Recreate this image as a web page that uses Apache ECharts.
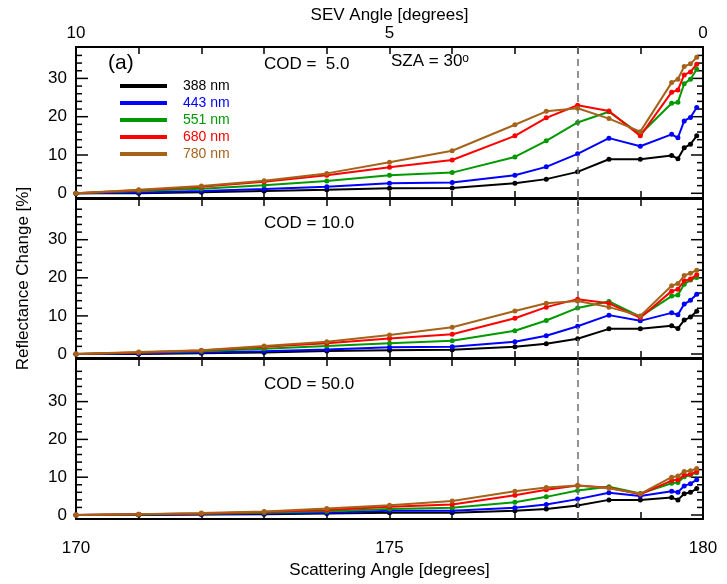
<!DOCTYPE html>
<html>
<head>
<meta charset="utf-8">
<script src="https://cdn.jsdelivr.net/npm/echarts@6/dist/echarts.min.js"></script>
<style>html,body{margin:0;padding:0;background:#fff}#c{width:727px;height:584px}</style>
</head>
<body>
<div id="c"></div>
<script>
// ---------- data ----------
const scatAngle = [170, 171, 172, 173, 174, 175, 176, 177, 177.5, 178, 178.5, 179, 179.5, 179.6, 179.7, 179.8, 179.9];
const wavelengths = ['388 nm', '443 nm', '551 nm', '680 nm', '780 nm'];
const colors = ['#000000', '#0000ff', '#009a00', '#ff0000', '#a5631a'];
const xTicksBottom = [170, 175, 180];
const xTicksTop = [10, 5, 0];
const yMajorTicks = [0, 10, 20, 30];
const yMinorTicks = [2, 4, 6, 8, 12, 14, 16, 18, 22, 24, 26, 28, 32, 34, 36, 38];
const panelTitles = ['COD =  5.0', 'COD = 10.0', 'COD = 50.0'];

// COD = 5.0
const cod5_388 = [0, 0.0, 0.3, 0.6, 0.9, 1.3, 1.4, 2.6, 3.7, 5.6, 8.9, 8.9, 9.9, 9.0, 11.9, 12.8, 15.0];
const cod5_443 = [0, 0.2, 0.6, 1.1, 1.7, 2.6, 2.8, 4.7, 6.9, 10.3, 14.4, 12.3, 15.4, 14.5, 18.9, 19.8, 22.4];
const cod5_551 = [0, 0.6, 1.2, 2.1, 3.2, 4.7, 5.4, 9.5, 13.7, 18.5, 21.3, 15.4, 23.5, 23.8, 28.6, 29.8, 32.4];
const cod5_680 = [0, 0.8, 1.7, 3.0, 4.7, 6.8, 8.7, 15.0, 19.7, 23.0, 21.5, 15.0, 26.4, 27.0, 30.9, 31.7, 33.7];
const cod5_780 = [0, 0.9, 1.9, 3.3, 5.2, 8.1, 11.1, 17.9, 21.4, 22.2, 19.5, 16.1, 28.9, 29.8, 33.1, 33.8, 35.5];
// COD = 10.0
const cod10_388 = [0, 0.0, 0.2, 0.4, 0.8, 1.0, 1.1, 1.9, 2.7, 4.0, 6.6, 6.6, 7.4, 6.7, 8.9, 9.7, 11.2];
const cod10_443 = [0, 0.1, 0.4, 0.7, 1.2, 1.8, 1.9, 3.2, 4.8, 7.3, 10.2, 8.7, 10.8, 10.3, 13.1, 14.1, 15.7];
const cod10_551 = [0, 0.3, 0.7, 1.4, 2.1, 2.8, 3.5, 6.1, 8.8, 12.1, 13.8, 9.8, 15.2, 15.5, 18.3, 19.4, 20.1];
const cod10_680 = [0, 0.4, 0.9, 1.9, 2.8, 4.1, 5.2, 9.4, 12.3, 14.4, 13.3, 9.5, 16.5, 17.0, 19.2, 19.7, 20.8];
const cod10_780 = [0, 0.5, 1.0, 2.1, 3.2, 5.0, 7.0, 11.3, 13.3, 13.9, 12.3, 10.0, 17.9, 18.5, 20.6, 21.2, 22.0];
// COD = 50.0
const cod50_388 = [0, 0.0, 0.1, 0.2, 0.4, 0.6, 0.6, 1.1, 1.6, 2.5, 4.0, 4.0, 4.6, 4.0, 5.6, 6.0, 7.0];
const cod50_443 = [0, 0.1, 0.2, 0.4, 0.6, 1.1, 1.1, 1.9, 2.8, 4.2, 5.9, 5.0, 6.3, 6.0, 7.7, 8.3, 9.3];
const cod50_551 = [0, 0.15, 0.3, 0.6, 1.0, 1.6, 1.9, 3.4, 4.8, 6.5, 7.5, 5.7, 8.4, 8.6, 10.1, 10.6, 11.2];
const cod50_680 = [0, 0.2, 0.4, 0.8, 1.3, 2.2, 2.8, 5.2, 6.7, 7.8, 7.2, 5.5, 9.1, 9.3, 10.6, 10.8, 11.5];
const cod50_780 = [0, 0.2, 0.5, 0.9, 1.7, 2.6, 3.7, 6.3, 7.3, 7.8, 7.1, 5.6, 10.0, 10.3, 11.5, 11.7, 12.3];

const panels = [
  [cod5_388, cod5_443, cod5_551, cod5_680, cod5_780],
  [cod10_388, cod10_443, cod10_551, cod10_680, cod10_780],
  [cod50_388, cod50_443, cod50_551, cod50_680, cod50_780]
];

// ---------- layout ----------
const FONT = 'Liberation Sans, Arial, Helvetica, sans-serif';
const LEFT = 76, WIDTH = 627;
const MAJOR_LEN = 12, MINOR_LEN = 6;
const boxes = [
  {top: 47, bottom: 198, y0: 193.3, s: 3.83},
  {top: 199, bottom: 358, y0: 354, s: 3.81},
  {top: 359, bottom: 519, y0: 515, s: 3.78}
];
const axLine = () => ({show: true, onZero: false, lineStyle: {color: '#000', width: 2}});
const tick = (len) => ({show: true, inside: true, length: len, lineStyle: {color: '#000', width: 1.5}});
const txt = () => ({fontSize: 17, color: '#000', fontFamily: FONT});

const grid = [], xAxis = [], yAxis = [];

boxes.forEach((b, gi) => {
  grid.push({left: LEFT, width: WIDTH, top: b.top, height: b.bottom - b.top});
  xAxis.push({
    type: 'value', gridIndex: gi, position: 'bottom', min: 170, max: 180, interval: 1,
    axisLine: axLine(), splitLine: {show: false},
    axisTick: tick(7),
    axisLabel: Object.assign({show: gi === 2, margin: 21,
      formatter: v => xTicksBottom.includes(v) ? String(v) : ''}, txt()),
    name: gi === 2 ? 'Scattering Angle [degrees]' : '', nameLocation: 'middle', nameGap: 43,
    nameTextStyle: txt()
  });
  if (gi === 0) {
    xAxis.push({
      type: 'value', gridIndex: gi, position: 'top', min: 0, max: 10, interval: 1, inverse: true,
      axisLine: axLine(), splitLine: {show: false},
      axisTick: tick(7),
      axisLabel: Object.assign({show: true, margin: 5,
        formatter: v => xTicksTop.includes(v) ? String(v) : ''}, txt()),
      name: 'SEV Angle [degrees]', nameLocation: 'middle', nameGap: 23, nameTextStyle: txt()
    });
  } else {
    xAxis.push({
      type: 'value', gridIndex: gi, position: 'top', min: 170, max: 180, interval: 1,
      axisLine: axLine(), splitLine: {show: false},
      axisTick: tick(7),
      axisLabel: {show: false}
    });
  }
  const ymax = (b.y0 - b.top) / b.s;
  ['left', 'right'].forEach(pos => {
    yAxis.push({
      type: 'value', gridIndex: gi, position: pos,
      min: -(b.bottom - b.y0) / b.s, max: ymax,
      axisLine: axLine(), splitLine: {show: false}, axisTick: {show: false},
      axisLabel: Object.assign({show: pos === 'left', customValues: yMajorTicks.slice(), margin: 9}, txt()),
      name: (gi === 1 && pos === 'left') ? 'Reflectance Change [%]' : '',
      nameLocation: 'middle', nameGap: 44, nameTextStyle: txt()
    });
  });
});

const series = [];
panels.forEach((arrs, gi) => {
  arrs.forEach((vals, si) => {
    const s = {
      type: 'line', name: wavelengths[si],
      xAxisIndex: gi * 2, yAxisIndex: gi * 2,
      data: scatAngle.map((x, k) => [x, vals[k]]),
      symbol: 'circle', symbolSize: 5, showSymbol: true,
      lineStyle: {color: colors[si], width: 2},
      itemStyle: {color: colors[si]},
      animation: false, silent: true, z: 2 + si
    };
    if (si === 0) {
      s.markLine = {
        silent: true, symbol: 'none', animation: false,
        label: {show: false},
        lineStyle: {color: '#707070', type: [7, 5], width: 1.5},
        data: [{xAxis: 178}]
      };
    }
    series.push(s);
  });
  // y-axis tick marks (inward on both sides), positioned through the axis scale
  const ymax = (boxes[gi].y0 - boxes[gi].top) / boxes[gi].s;
  const tickVals = yMajorTicks.concat(yMinorTicks.filter(v => v < ymax - 0.3));
  series.push({
    type: 'custom', name: 'yticks' + gi,
    xAxisIndex: gi * 2, yAxisIndex: gi * 2,
    dimensions: ['x', 'y'],
    encode: {x: 'x', y: 'y'},
    data: tickVals.map(v => [175, v]),
    silent: true, animation: false, z: 1, clip: false,
    renderItem: function (params, api) {
      const v = api.value(1);
      const len = yMajorTicks.indexOf(v) >= 0 ? MAJOR_LEN : MINOR_LEN;
      const pL = api.coord([170, v]);
      const pR = api.coord([180, v]);
      return {
        type: 'group',
        children: [
          {type: 'line', shape: {x1: pL[0], y1: pL[1], x2: pL[0] + len, y2: pL[1]},
           style: {stroke: '#000', lineWidth: 1.5}},
          {type: 'line', shape: {x1: pR[0] - len, y1: pR[1], x2: pR[0], y2: pR[1]},
           style: {stroke: '#000', lineWidth: 1.5}}
        ]
      };
    }
  });
});

const graphic = [
  {type: 'text', left: 108, top: 53, style: {text: '(a)', fontSize: 21, fontFamily: FONT, fill: '#000'}},
  {type: 'text', left: 264, top: 56, style: {text: panelTitles[0], fontSize: 17, fontFamily: FONT, fill: '#000'}},
  {type: 'text', left: 391, top: 53, style: {
    text: 'SZA = 30{s|o}', fontSize: 17, fontFamily: FONT, fill: '#000',
    rich: {s: {fontSize: 12, fontFamily: FONT, verticalAlign: 'top', lineHeight: 12, padding: [0, 0, 10, 0]}}}},
  {type: 'text', left: 264, top: 215, style: {text: panelTitles[1], fontSize: 17, fontFamily: FONT, fill: '#000'}},
  {type: 'text', left: 264, top: 376, style: {text: panelTitles[2], fontSize: 17, fontFamily: FONT, fill: '#000'}}
];

const option = {
  animation: false,
  backgroundColor: '#fff',
  grid, xAxis, yAxis, series, graphic,
  legend: {
    orient: 'vertical', left: 115, top: 74, itemWidth: 47, itemHeight: 4, itemGap: 3,
    icon: 'rect', selectedMode: false,
    textStyle: {fontSize: 14, fontFamily: FONT, padding: [0, 0, 0, 11]},
    data: wavelengths.map((n, i) => ({name: n, textStyle: {color: colors[i]}, itemStyle: {color: colors[i]}}))
  }
};

const chart = echarts.init(document.getElementById('c'));
chart.setOption(option);
</script>
</body>
</html>
